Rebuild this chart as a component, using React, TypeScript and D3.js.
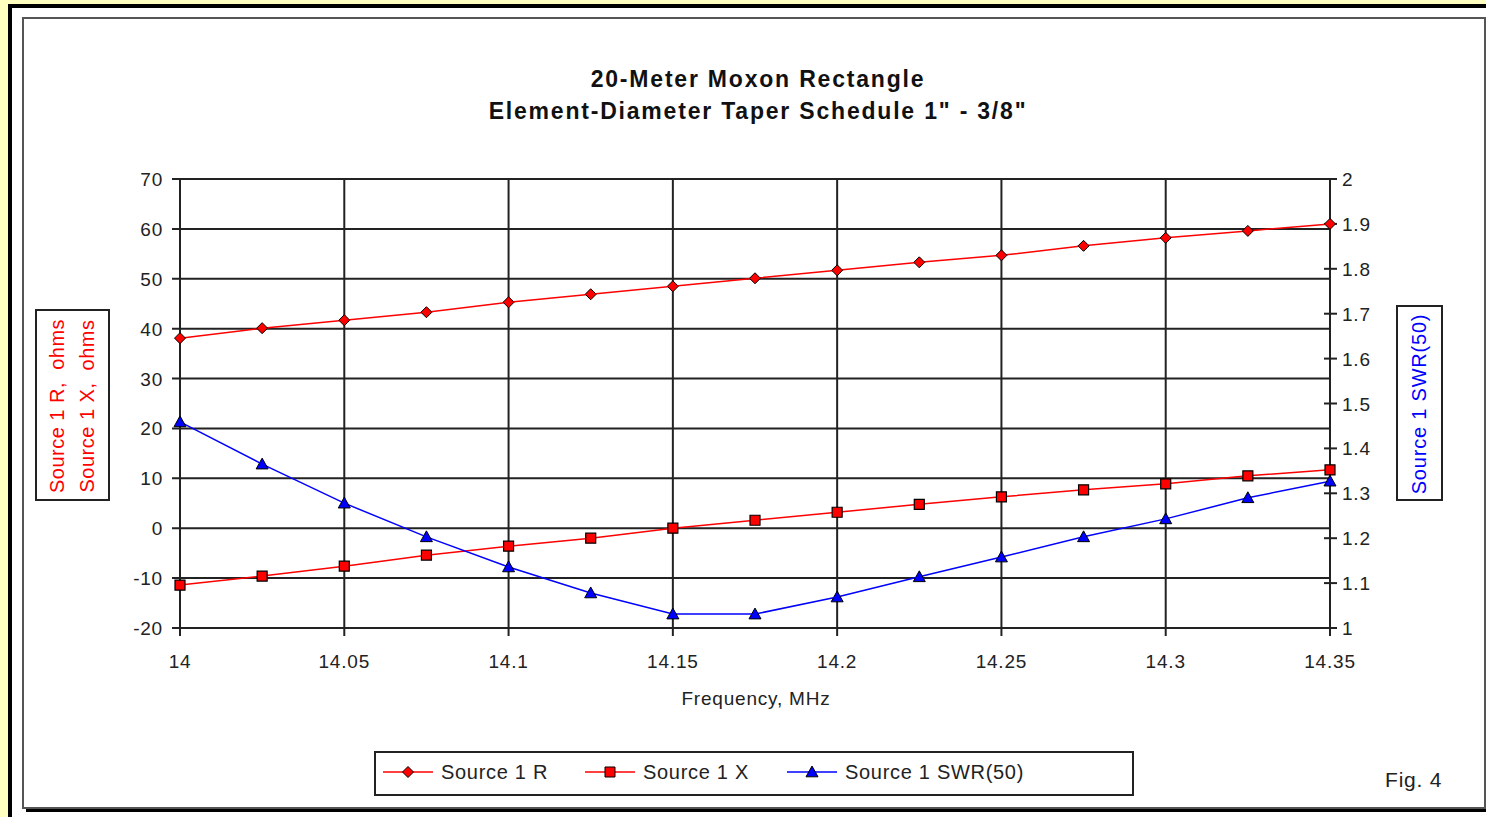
import * as d3 from 'd3';

const freqs = [14, 14.025, 14.05, 14.075, 14.1, 14.125, 14.15, 14.175, 14.2, 14.225, 14.25, 14.275, 14.3, 14.325, 14.35];
const sourceR = [38.1, 40.1, 41.7, 43.3, 45.3, 46.9, 48.5, 50.1, 51.7, 53.3, 54.7, 56.6, 58.2, 59.6, 61.0];
const sourceX = [-11.4, -9.6, -7.6, -5.4, -3.6, -2.0, 0.0, 1.6, 3.2, 4.8, 6.3, 7.7, 8.9, 10.5, 11.7];
const swr = [1.459, 1.365, 1.278, 1.203, 1.136, 1.078, 1.031, 1.031, 1.069, 1.114, 1.158, 1.203, 1.243, 1.29, 1.327];

const xTicks = [14, 14.05, 14.1, 14.15, 14.2, 14.25, 14.3, 14.35];
const leftTicks = [-20, -10, 0, 10, 20, 30, 40, 50, 60, 70];
const rightTicks = [1, 1.1, 1.2, 1.3, 1.4, 1.5, 1.6, 1.7, 1.8, 1.9, 2];

const W = 1486;
const H = 817;
const font = '"Liberation Sans", Arial, sans-serif';

const App = () => {
  const x = d3.scaleLinear().domain([14, 14.35]).range([180, 1330]);
  const yL = d3.scaleLinear().domain([-20, 70]).range([628, 179]);
  const yR = d3.scaleLinear().domain([1, 2]).range([628, 179]);

  const lineL = d3
    .line<number>()
    .x((_, i) => x(freqs[i]))
    .y((d) => yL(d));
  const lineR = d3
    .line<number>()
    .x((_, i) => x(freqs[i]))
    .y((d) => yR(d));

  const diamond = (cx: number, cy: number, r = 5.5) =>
    `M${cx},${cy - r}L${cx + r},${cy}L${cx},${cy + r}L${cx - r},${cy}Z`;
  const square = (cx: number, cy: number, r = 5) =>
    `M${cx - r},${cy - r}H${cx + r}V${cy + r}H${cx - r}Z`;
  const triangle = (cx: number, cy: number, r = 6) =>
    `M${cx},${cy - r}L${cx + r},${cy + r * 0.8}L${cx - r},${cy + r * 0.8}Z`;

  const legendItems = [
    { x: 383, label: 'Source 1 R', color: '#ff0000', shape: diamond, fill: '#ff0000' },
    { x: 585, label: 'Source 1 X', color: '#ff0000', shape: square, fill: '#ff0000' },
    { x: 787, label: 'Source 1 SWR(50)', color: '#0000ff', shape: triangle, fill: '#0000ff' },
  ];

  const tickText = { fontSize: 19, fill: '#222', letterSpacing: 0.8 };

  return (
    <div style={{ position: 'absolute', left: 0, top: 0 }}>
      <svg width={W} height={H} style={{ display: 'block', fontFamily: font }}>
        <rect x={0} y={0} width={W} height={H} fill="#ffffc0" />
        {/* outer black frame */}
        <rect x={10} y={6} width={W + 20} height={H + 20} fill="#fff" stroke="#000" strokeWidth={4} />
        {/* chart area with shadow */}
        <rect x={26} y={21} width={1462} height={791} fill="#000" />
        <rect x={23} y={18} width={1462} height={790} fill="#fff" stroke="#555" strokeWidth={2} />

        {/* title */}
        <text x={758} y={87} textAnchor="middle" fontSize={23} fontWeight="bold" fill="#111" letterSpacing={1.8}>
          20-Meter Moxon Rectangle
        </text>
        <text x={758} y={119} textAnchor="middle" fontSize={23} fontWeight="bold" fill="#111" letterSpacing={1.8}>
          Element-Diameter Taper Schedule 1" - 3/8"
        </text>

        {/* horizontal grid + left ticks */}
        {leftTicks.map((t) => (
          <g key={`l${t}`}>
            <line x1={172} x2={1330} y1={yL(t)} y2={yL(t)} stroke="#222" strokeWidth={2} />
            <text x={163} y={yL(t) + 7} textAnchor="end" {...tickText}>
              {t}
            </text>
          </g>
        ))}
        {/* vertical grid + bottom ticks */}
        {xTicks.map((t) => (
          <g key={`x${t}`}>
            <line x1={x(t)} x2={x(t)} y1={179} y2={636} stroke="#222" strokeWidth={2} />
            <text x={x(t)} y={668} textAnchor="middle" {...tickText}>
              {t}
            </text>
          </g>
        ))}
        {/* right axis ticks */}
        {rightTicks.map((t) => (
          <g key={`r${t}`}>
            <line x1={1324} x2={1337} y1={yR(t)} y2={yR(t)} stroke="#222" strokeWidth={2} />
            <text x={1342} y={yR(t) + 7} textAnchor="start" {...tickText}>
              {t}
            </text>
          </g>
        ))}

        <text x={756} y={705} textAnchor="middle" {...tickText}>
          Frequency, MHz
        </text>

        {/* left axis title */}
        <rect x={36} y={310} width={73} height={190} fill="none" stroke="#222" strokeWidth={2} />
        <text transform="translate(64,406) rotate(-90)" textAnchor="middle" fontSize={20} fill="#ff0000" letterSpacing={0.5}>
          {'Source 1 R,\u00a0 ohms'}
        </text>
        <text transform="translate(94,406) rotate(-90)" textAnchor="middle" fontSize={20} fill="#ff0000" letterSpacing={0.5}>
          {'Source 1 X,\u00a0 ohms'}
        </text>

        {/* right axis title */}
        <rect x={1397} y={306} width={45} height={194} fill="none" stroke="#222" strokeWidth={2} />
        <text transform="translate(1426,404) rotate(-90)" textAnchor="middle" fontSize={20} fill="#0000ff" letterSpacing={0.8}>
          Source 1 SWR(50)
        </text>

        {/* series lines */}
        <path d={lineL(sourceR) ?? ''} fill="none" stroke="#ff0000" strokeWidth={1.5} />
        <path d={lineL(sourceX) ?? ''} fill="none" stroke="#ff0000" strokeWidth={1.5} />
        <path d={lineR(swr) ?? ''} fill="none" stroke="#0000ff" strokeWidth={1.5} />

        {/* markers */}
        {sourceR.map((d, i) => (
          <path key={`mr${i}`} d={diamond(x(freqs[i]), yL(d))} fill="#ff0000" stroke="#000" strokeWidth={1} />
        ))}
        {sourceX.map((d, i) => (
          <path key={`mx${i}`} d={square(x(freqs[i]), yL(d))} fill="#ff0000" stroke="#000" strokeWidth={1.2} />
        ))}
        {swr.map((d, i) => (
          <path key={`ms${i}`} d={triangle(x(freqs[i]), yR(d))} fill="#0000ff" stroke="#000" strokeWidth={1} />
        ))}

        {/* legend */}
        <rect x={375} y={752} width={758} height={43} fill="#fff" stroke="#222" strokeWidth={2} />
        {legendItems.map((it) => (
          <g key={it.label}>
            <line x1={it.x} x2={it.x + 50} y1={772} y2={772} stroke={it.color} strokeWidth={1.5} />
            <path d={it.shape(it.x + 25, 772)} fill={it.fill} stroke="#000" strokeWidth={1} />
            <text x={it.x + 58} y={779} fontSize={20} fill="#222" letterSpacing={0.7}>
              {it.label}
            </text>
          </g>
        ))}

        <text x={1385} y={787} fontSize={21} fill="#222" letterSpacing={0.8}>
          Fig. 4
        </text>
      </svg>
    </div>
  );
};

export default App;
